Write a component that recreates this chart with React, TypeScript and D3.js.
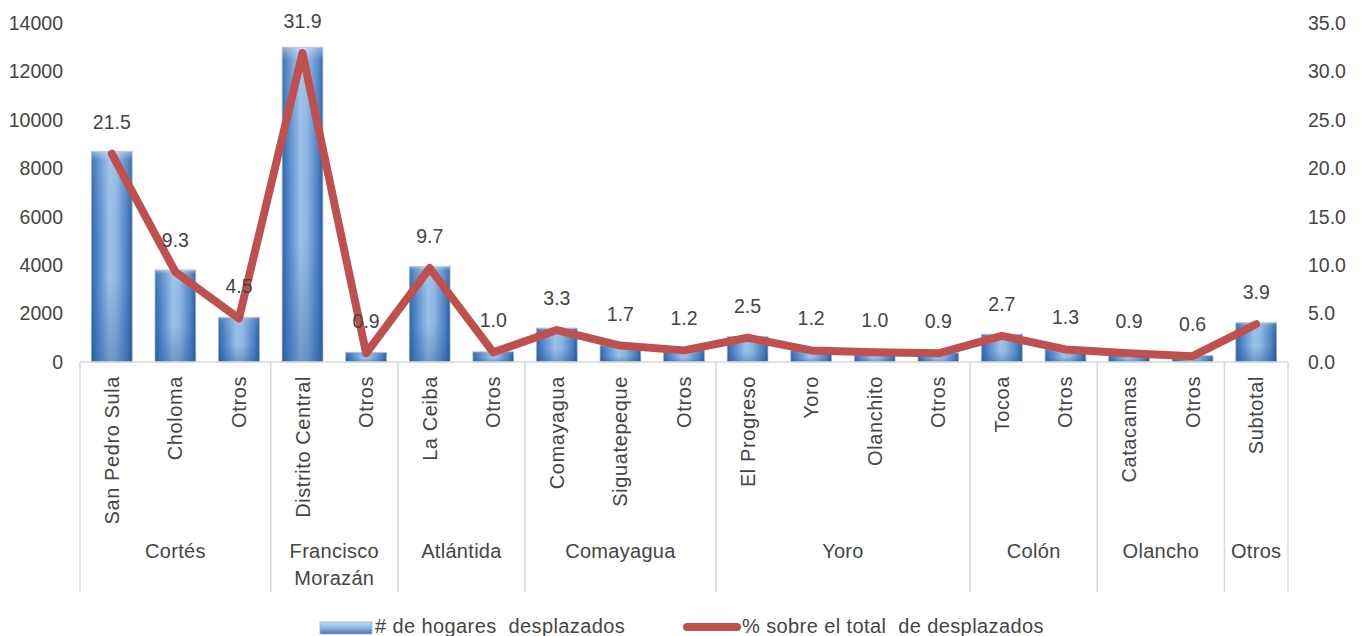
import React from "react";
import * as d3 from "d3";

const categories = [
  "San Pedro Sula", "Choloma", "Otros",
  "Distrito Central", "Otros",
  "La Ceiba", "Otros",
  "Comayagua", "Siguatepeque", "Otros",
  "El Progreso", "Yoro", "Olanchito", "Otros",
  "Tocoa", "Otros",
  "Catacamas", "Otros",
  "Subtotal",
];
const groups = [
  { name: ["Cortés"], size: 3 },
  { name: ["Francisco", "Morazán"], size: 2 },
  { name: ["Atlántida"], size: 2 },
  { name: ["Comayagua"], size: 3 },
  { name: ["Yoro"], size: 4 },
  { name: ["Colón"], size: 2 },
  { name: ["Olancho"], size: 2 },
  { name: ["Otros"], size: 1 },
];
const hogares = [8700, 3800, 1850, 13000, 400, 3950, 420, 1400, 700, 500, 1050, 500, 420, 380, 1150, 540, 380, 260, 1620];
const porcentaje = [21.5, 9.3, 4.5, 31.9, 0.9, 9.7, 1.0, 3.3, 1.7, 1.2, 2.5, 1.2, 1.0, 0.9, 2.7, 1.3, 0.9, 0.6, 3.9];
const leftTicks = [0, 2000, 4000, 6000, 8000, 10000, 12000, 14000];
const rightTicks = [0, 5, 10, 15, 20, 25, 30, 35];
const legendLabels = ["# de hogares  desplazados", "% sobre el total  de desplazados"];

const W = 1363, H = 636;
const left = 80, right = 1288, top = 23, bottom = 362;
const FONT = "'Liberation Sans', Arial, sans-serif";
const TXT = "#454545";

export default function App() {
  const step = (right - left) / categories.length;
  const x = d3.scaleBand().domain(categories.map((_, i) => String(i))).range([left, right]).paddingInner(0.36).paddingOuter(0.18);
  const cx = (i: number) => (x(String(i)) as number) + x.bandwidth() / 2;
  const bw = x.bandwidth();
  const yL = d3.scaleLinear().domain([0, 14000]).range([bottom, top]);
  const yR = d3.scaleLinear().domain([0, 35]).range([bottom, top]);
  const line = d3.line<number>().x((_, i) => cx(i)).y((d) => yR(d));

  const boundaries: number[] = [left];
  let acc = 0;
  groups.forEach((g) => { acc += g.size; boundaries.push(left + acc * step); });

  return (
    <svg width={W} height={H} style={{ position: "absolute", left: 0, top: 0, background: "#fff" }} fontFamily={FONT}>
      <defs>
        <linearGradient id="barH" x1="0" x2="1" y1="0" y2="0">
          <stop offset="0%" stopColor="#2f67a8" />
          <stop offset="15%" stopColor="#4f86c8" />
          <stop offset="45%" stopColor="#9cc2ea" />
          <stop offset="60%" stopColor="#8fb8e4" />
          <stop offset="88%" stopColor="#4a80c2" />
          <stop offset="100%" stopColor="#2a5d9c" />
        </linearGradient>
        <linearGradient id="barV" x1="0" x2="0" y1="0" y2="1">
          <stop offset="0%" stopColor="#ffffff" stopOpacity="0.45" />
          <stop offset="4%" stopColor="#ffffff" stopOpacity="0.1" />
          <stop offset="60%" stopColor="#1f4f8f" stopOpacity="0" />
          <stop offset="100%" stopColor="#1f4f8f" stopOpacity="0.35" />
        </linearGradient>
        <linearGradient id="legV" x1="0" x2="0" y1="0" y2="1">
          <stop offset="0%" stopColor="#c5daf0" />
          <stop offset="50%" stopColor="#8fb5e0" />
          <stop offset="100%" stopColor="#3c72b5" />
        </linearGradient>
      </defs>

      {leftTicks.map((t) => (
        <text key={"l" + t} x={63} y={yL(t)} dy="0.35em" textAnchor="end" fontSize={19.5} fill={TXT}>{t}</text>
      ))}
      {rightTicks.map((t) => (
        <text key={"r" + t} x={1308} y={yR(t)} dy="0.35em" textAnchor="start" fontSize={19.5} fill={TXT}>{t.toFixed(1)}</text>
      ))}

      {hogares.map((v, i) => (
        <g key={"b" + i}>
          <rect x={cx(i) - bw / 2} y={yL(v)} width={bw} height={bottom - yL(v)} fill="url(#barH)" stroke="#9fb3cc" strokeWidth={0.8} />
          <rect x={cx(i) - bw / 2} y={yL(v)} width={bw} height={bottom - yL(v)} fill="url(#barV)" />
        </g>
      ))}

      <line x1={left} x2={right} y1={bottom} y2={bottom} stroke="#d9d9d9" strokeWidth={1.5} />
      {boundaries.map((b, i) => (
        <line key={"s" + i} x1={b} x2={b} y1={bottom} y2={592} stroke="#d9d9d9" strokeWidth={1.5} />
      ))}

      <path d={line(porcentaje) || ""} fill="none" stroke="#c0504d" strokeWidth={8} strokeLinejoin="round" strokeLinecap="round" />

      {porcentaje.map((p, i) => (
        <text key={"d" + i} x={cx(i)} y={yR(p) - 25} textAnchor="middle" fontSize={19.5} fill={TXT}>{p.toFixed(1)}</text>
      ))}

      {categories.map((c, i) => (
        <text key={"c" + i} transform={`translate(${cx(i)},376) rotate(-90)`} dy="0.35em" textAnchor="end" fontSize={20} letterSpacing={0.6} fill={TXT}>{c}</text>
      ))}

      {groups.map((g, gi) => {
        const mid = (boundaries[gi] + boundaries[gi + 1]) / 2;
        return (
          <text key={"g" + gi} x={mid} y={551} textAnchor="middle" fontSize={20} letterSpacing={0.3} fill={TXT}>
            {g.name.map((n, k) => (
              <tspan key={k} x={mid} dy={k === 0 ? "0.35em" : 27}>{n}</tspan>
            ))}
          </text>
        );
      })}

      <rect x={320} y={622} width={52} height={12} fill="url(#legV)" stroke="#9fb3cc" strokeWidth={0.8} />
      <text x={375} y={633} fontSize={20} letterSpacing={0.4} fill={TXT} style={{ whiteSpace: "pre" }}>{legendLabels[0]}</text>
      <line x1={687} x2={737} y1={627} y2={627} stroke="#c0504d" strokeWidth={8} strokeLinecap="round" />
      <text x={742} y={633} fontSize={20} letterSpacing={0.4} fill={TXT} style={{ whiteSpace: "pre" }}>{legendLabels[1]}</text>
    </svg>
  );
}
